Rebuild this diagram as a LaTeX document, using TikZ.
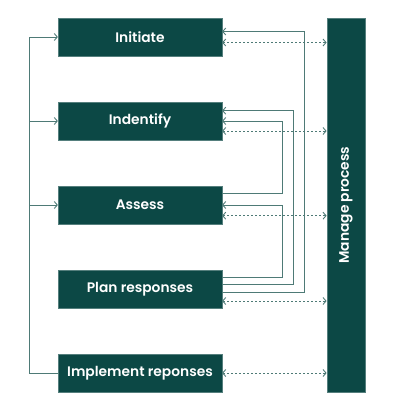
\documentclass[tikz,border=0pt]{standalone}
\usepackage{fontspec}
\setmainfont{Poppins}[BoldFont={* SemiBold}]
\usetikzlibrary{arrows.meta}
\definecolor{boxgreen}{HTML}{0C4845}
\definecolor{linec}{HTML}{4E7A76}
\tikzset{
  stagebox/.style={draw=boxgreen!70!white, line width=0.3pt, fill=boxgreen, text=white, font=\bfseries\fontsize{13.8}{16}\selectfont, minimum width=164pt, minimum height=38pt, inner sep=0pt},
  conn/.style={draw=linec, line width=1pt},
  tip/.style={-{Straight Barb[length=3pt,width=7pt,line width=0.9pt]}},
  dconn/.style={draw=linec, line width=1pt, dash pattern=on 2pt off 2pt, {Straight Barb[length=3pt,width=7pt,line width=0.9pt]}-{Straight Barb[length=3pt,width=7pt,line width=0.9pt]}}
}
\begin{document}
\begin{tikzpicture}[x=1pt,y=-1pt]
\useasboundingbox (0,0) rectangle (400,410);
\node[stagebox] (initiate) at (140,37) {Initiate};
\node[stagebox] (identify) at (140,121) {Indentify};
\node[stagebox] (assess) at (140,205) {Assess};
\node[stagebox] (plan) at (140,289) {Plan responses};
\node[stagebox] (implement) at (140,373) {Implement reponses};
\node[stagebox, minimum width=38.5pt, minimum height=374.5pt] (manage) at (346,205) {};
\node[text=white, font=\bfseries\fontsize{13.8}{16}\selectfont, rotate=90] (managelabel) at (manage.center) {Manage process};
% left feedback line
\coordinate (vl) at (29.5,0);
\draw[conn,tip] (implement.west) -| (vl |- initiate.west) -- (initiate.west);
\draw[conn,tip] (vl |- identify.west) -- (identify.west);
\draw[conn,tip] (vl |- assess.west) -- (assess.west);
% right lines
\coordinate (va) at (282,0);
\coordinate (vb) at (293,0);
\coordinate (vc) at (304,0);
\coordinate (ini1) at ([yshift=5.5pt]initiate.east);
\coordinate (ini2) at ([yshift=-5.5pt]initiate.east);
\coordinate (ide1) at ([yshift=10.3pt]identify.east);
\coordinate (ide2) at (identify.east);
\coordinate (ide3) at ([yshift=-10pt]identify.east);
\coordinate (ass1) at ([yshift=11.3pt]assess.east);
\coordinate (ass2) at (assess.east);
\coordinate (ass3) at ([yshift=-10.7pt]assess.east);
\coordinate (pla1) at ([yshift=12pt]plan.east);
\coordinate (pla2) at ([yshift=4.7pt]plan.east);
\coordinate (pla3) at ([yshift=-3.7pt]plan.east);
\coordinate (pla4) at ([yshift=-12pt]plan.east);
\draw[conn,tip] (pla1) -| (va |- ass2) -- (ass2);
\draw[conn,tip] (ass1) -| (va |- ide2) -- (ide2);
\draw[conn,tip] (pla2) -| (vb |- ide1) -- (ide1);
\draw[conn,tip] (pla3) -| (vc |- ini1) -- (ini1);
% dashed links to manage
\draw[dconn] (ini2) -- (ini2 -| manage.west);
\draw[dconn] (ide3) -- (ide3 -| manage.west);
\draw[dconn] (ass3) -- (ass3 -| manage.west);
\draw[dconn] (pla4) -- (pla4 -| manage.west);
\draw[dconn] (implement.east) -- (implement.east -| manage.west);
\end{tikzpicture}
\end{document}
